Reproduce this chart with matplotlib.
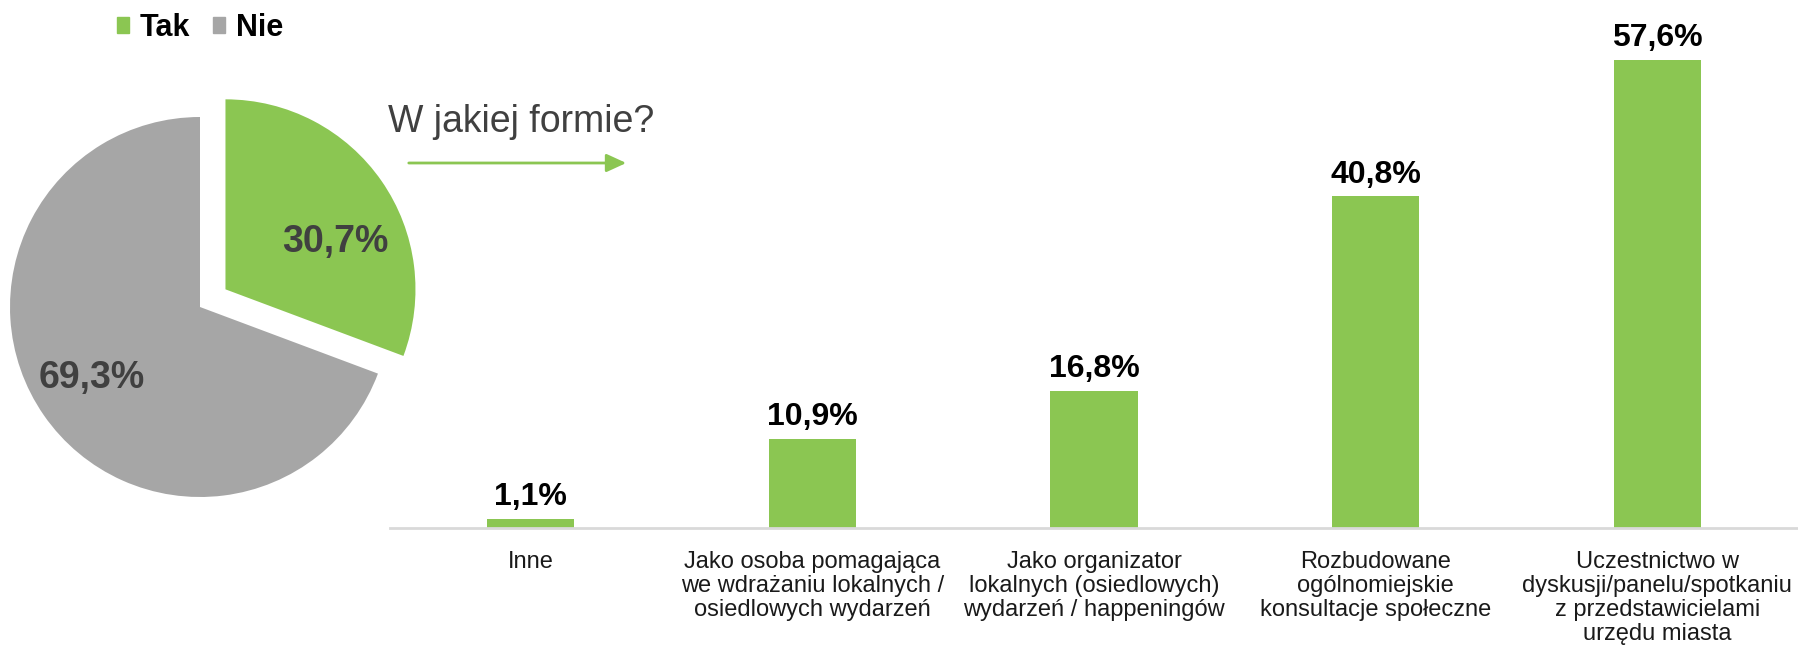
import matplotlib.pyplot as plt
from matplotlib.patches import Patch

plt.rcParams['font.family'] = ['Liberation Sans', 'DejaVu Sans']

# pie: did the respondent take part
pie_labels = ["Tak", "Nie"]
pie_values = [30.7, 69.3]

# bars: in what form
categories = [
    "Inne",
    "Jako osoba pomagająca\nwe wdrażaniu lokalnych /\nosiedlowych wydarzeń",
    "Jako organizator\nlokalnych (osiedlowych)\nwydarzeń / happeningów",
    "Rozbudowane\nogólnomiejskie\nkonsultacje społeczne",
    "Uczestnictwo w\ndyskusji/panelu/spotkaniu\nz przedstawicielami\nurzędu miasta",
]
bar_values = [1.1, 10.9, 16.8, 40.8, 57.6]

green = "#8BC652"
grey = "#A6A6A6"
W, H = 1798, 651

fig = plt.figure(figsize=(W / 100, H / 100), dpi=100)

# pie drawn in pixel coordinates (y up)
axp = fig.add_axes([0, 0, 1, 1])
wedges, _, autotexts = axp.pie(
    pie_values, colors=[green, grey], startangle=90, counterclock=False,
    explode=[31, 0], radius=190, center=(200, H - 307),
    autopct=lambda p: f"{p:.1f}%".replace(".", ","), pctdistance=0.65,
    frame=True,
)
axp.set_xlim(0, W)
axp.set_ylim(0, H)
axp.set_aspect("equal")
axp.axis("off")
# nudge the percentage labels a little off the mid-angle
for t, pos in zip(autotexts, [(335, H - 242), (92, H - 378)]):
    t.set_position(pos)
    t.set_fontsize(27)
    t.set_fontweight("bold")
    t.set_color("#404040")

fig.legend(handles=[Patch(color=green, label=pie_labels[0]),
                    Patch(color=grey, label=pie_labels[1])],
           loc="upper left", bbox_to_anchor=(117 / W, 1 - 13 / H), ncol=2,
           frameon=False, prop={"size": 22, "weight": "bold"},
           handlelength=0.4, handleheight=0.4, handletextpad=0.35,
           columnspacing=0.75, borderpad=0, borderaxespad=0)

# question and arrow
axp.text(388, H - 132, "W jakiej formie?", fontsize=27, color="#404040",
         ha="left", va="baseline")
axp.annotate("", xy=(629, H - 163), xytext=(406, H - 163),
             arrowprops=dict(arrowstyle="-|>,head_length=1.2,head_width=0.55",
                             color=green, lw=2))

# bar chart
ax = fig.add_axes([390 / W, (H - 527.5) / H, 1408 / W, 527.5 / H])
x = range(len(categories))
bars = ax.bar(x, bar_values, width=0.31, color=green)
ax.set_xlim(-0.5, len(categories) - 0.5)
ax.set_ylim(0, 65)
for b, v in zip(bars, bar_values):
    ax.annotate(f"{v:.1f}%".replace(".", ","), (b.get_x() + b.get_width() / 2, v),
                xytext=(0, 10), textcoords="offset points", ha="center",
                va="baseline", fontsize=23, fontweight="bold", color="black")
ax.set_xticks(list(x))
ax.set_xticklabels(categories, fontsize=17, color="#1a1a1a", linespacing=1.12,
                   va="top")
ax.tick_params(axis="x", length=0, pad=17)
ax.set_yticks([])
for s in ["top", "right", "left"]:
    ax.spines[s].set_visible(False)
ax.spines["bottom"].set_color("#D9D9D9")
ax.spines["bottom"].set_linewidth(2)
ax.patch.set_alpha(0)

fig.savefig("out.png", dpi=100)
